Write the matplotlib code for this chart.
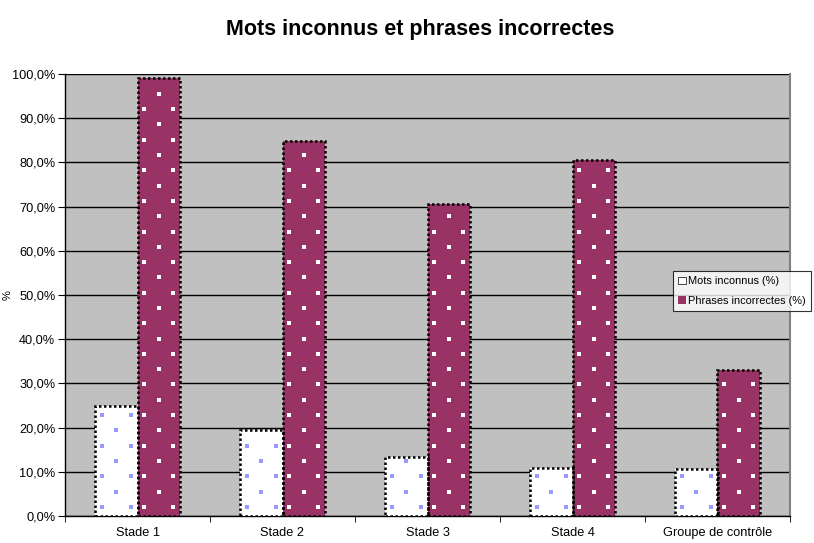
import matplotlib
matplotlib.use("Agg")
import matplotlib.pyplot as plt
import numpy as np
from matplotlib.ticker import FuncFormatter, MultipleLocator

categories = ["Stade 1", "Stade 2", "Stade 3", "Stade 4", "Groupe de contrôle"]
mots_inconnus = [24.9, 19.5, 13.3, 10.9, 10.6]
phrases_incorrectes = [99.1, 84.8, 70.6, 80.5, 33.0]
series_names = ["Mots inconnus (%)", "Phrases incorrectes (%)"]
title = "Mots inconnus et phrases incorrectes"

plt.rcParams['font.family'] = ['Liberation Sans', 'DejaVu Sans']

fig = plt.figure(figsize=(8.14, 5.43), dpi=100)
ax = fig.add_axes([65/814, 1-516/543, (790-65)/814, (516-74)/543])
ax.set_facecolor('#C0C0C0')

x = np.arange(len(categories))
w = 0.29

b1 = ax.bar(x - w/2, mots_inconnus, w, color='white', linewidth=0, zorder=3)
b2 = ax.bar(x + w/2, phrases_incorrectes, w, color='#993366', linewidth=0, zorder=3)
ax.bar(x - w/2, mots_inconnus, w, color='none', edgecolor='black', linestyle=(0, (1, 1)), linewidth=1.8, zorder=5)
ax.bar(x + w/2, phrases_incorrectes, w, color='none', edgecolor='black', linestyle=(0, (1, 1)), linewidth=1.8, zorder=5)

# dotted fill pattern derived from each bar's geometry
row_step = 3.46   # data units (% axis) between pattern rows
col_off = 0.103   # x offset of side dots
def pattern(bars, color):
    for r in bars:
        cx = r.get_x() + r.get_width() / 2
        h = r.get_height()
        ys = np.arange(row_step * 0.6, h - 0.8, row_step)
        px, py = [], []
        for k, yy in enumerate(ys):
            if k % 2 == 0:
                px += [cx - col_off, cx + col_off]
                py += [yy, yy]
            else:
                px.append(cx)
                py.append(yy)
        ax.scatter(px, py, marker='s', s=7, color=color, linewidths=0, zorder=4)

pattern(b1, '#9999FF')
pattern(b2, 'white')

ax.set_xlim(-0.5, len(categories) - 0.5)
ax.set_ylim(0, 100)
ax.yaxis.set_major_locator(MultipleLocator(10))
ax.yaxis.set_major_formatter(FuncFormatter(lambda v, p: f"{v:.1f}%".replace('.', ',')))
ax.grid(axis='y', color='black', linewidth=1, zorder=1)
ax.set_axisbelow(True)

ax.set_xticks(x)
ax.set_xticklabels(categories)
ax.set_xticks(np.arange(len(categories) + 1) - 0.5, minor=True)
ax.tick_params(axis='x', which='major', length=0, pad=8, labelsize=9.2)
ax.tick_params(axis='x', which='minor', length=4, color='black')
ax.tick_params(axis='y', length=5, labelsize=9.2, pad=2)

for s in ['left', 'bottom']:
    ax.spines[s].set_color('black')
    ax.spines[s].set_linewidth(1)
ax.spines['right'].set_color('#808080')
ax.spines['right'].set_linewidth(1.5)
ax.spines['top'].set_visible(False)

fig.text(420/814, 1 - 30/543, title, ha='center', va='center', fontsize=15.5, fontweight='bold')
fig.text(8/814, 1 - 295/543, '%', rotation=90, ha='center', va='center', fontsize=8)

leg = fig.legend([b1, b2], series_names, loc='upper left',
                 bbox_to_anchor=(673/814, 1 - 271/543), fontsize=7.9,
                 frameon=True, fancybox=False, borderpad=0.5, handlelength=0.7,
                 handletextpad=0.15, labelspacing=0.85, borderaxespad=0)
leg.get_frame().set_edgecolor('black')
leg.get_frame().set_linewidth(0.8)
leg.legend_handles[0].set_edgecolor('black')
leg.legend_handles[0].set_linewidth(0.5)

fig.savefig('out.png', dpi=100)
